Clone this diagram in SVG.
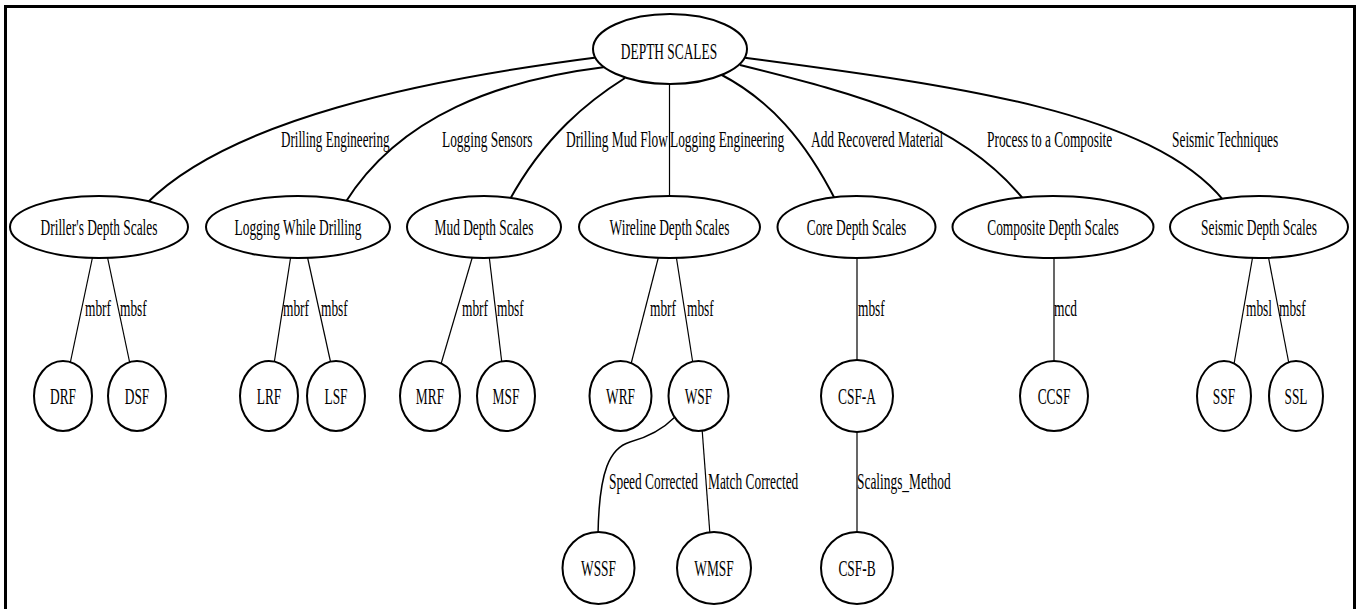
<svg xmlns="http://www.w3.org/2000/svg" width="1362" height="609" viewBox="0 0 1362 609">
<style>
  .frame { fill: none; stroke: #000; stroke-width: 3; }
  .node ellipse { fill: #fff; stroke: #000; stroke-width: 2; }
  .node text, .lbl { font-family: "Liberation Serif", "Times New Roman", serif; font-size: 24px; fill: #000; }
  .node text { text-anchor: middle; }
  .lbl { text-anchor: start; }
  .edge { fill: none; stroke: #000; stroke-width: 1.2; }
  .edge.c { stroke-width: 2; }
</style>
<rect x="0" y="0" width="1362" height="609" fill="#fff"/>
<path class="frame" d="M5.5,609 V6.5 H1354.5 V609"/>

<g id="connectors">
  <path class="edge c" d="M600,57 C420,80 230,120 147,203"/>
  <path class="edge c" d="M605,67 C500,80 400,115 345,203"/>
  <path class="edge c" d="M625,78 C590,100 545,135 509,201"/>
  <path class="edge" d="M669.5,80 V200"/>
  <path class="edge c" d="M720,74 C770,100 805,140 836,201"/>
  <path class="edge c" d="M740,65 C860,95 960,120 1025,201"/>
  <path class="edge c" d="M740,57 C950,85 1150,110 1224,201"/>

  <path class="edge" d="M93,255 L70,364"/>
  <path class="edge" d="M107,255 L130,364"/>
  <path class="edge" d="M291,255 L274,364"/>
  <path class="edge" d="M307,255 L331,364"/>
  <path class="edge" d="M473,255 L441,364"/>
  <path class="edge" d="M489,255 L502,364"/>
  <path class="edge" d="M659,255 L631,364"/>
  <path class="edge" d="M676,255 L693,364"/>
  <path class="edge" d="M857,255 V362"/>
  <path class="edge" d="M1054,255 V363"/>
  <path class="edge" d="M1253,255 L1234,364"/>
  <path class="edge" d="M1268,255 L1289,364"/>

  <path class="edge" style="stroke-width:1.5" d="M675,417 C660,432 645,438 630,442 C610,448 599,470 598,535"/>
  <path class="edge" d="M702,428 L710,535"/>
  <path class="edge" d="M857,428 V535"/>

  <text class="lbl" transform="translate(281 147) scale(0.545 1)">Drilling Engineering</text>
  <text class="lbl" transform="translate(442 147) scale(0.558 1)">Logging Sensors</text>
  <text class="lbl" transform="translate(566 147) scale(0.558 1)">Drilling Mud Flow</text>
  <text class="lbl" transform="translate(670 147) scale(0.558 1)">Logging Engineering</text>
  <text class="lbl" transform="translate(811 147) scale(0.558 1)">Add Recovered Material</text>
  <text class="lbl" transform="translate(987 147) scale(0.558 1)">Process to a Composite</text>
  <text class="lbl" transform="translate(1172 147) scale(0.558 1)">Seismic Techniques</text>

  <text class="lbl" transform="translate(85 316) scale(0.558 1)">mbrf</text>
  <text class="lbl" transform="translate(120 316) scale(0.558 1)">mbsf</text>
  <text class="lbl" transform="translate(283 316) scale(0.558 1)">mbrf</text>
  <text class="lbl" transform="translate(321 316) scale(0.558 1)">mbsf</text>
  <text class="lbl" transform="translate(462 316) scale(0.558 1)">mbrf</text>
  <text class="lbl" transform="translate(497 316) scale(0.558 1)">mbsf</text>
  <text class="lbl" transform="translate(650 316) scale(0.558 1)">mbrf</text>
  <text class="lbl" transform="translate(687 316) scale(0.558 1)">mbsf</text>
  <text class="lbl" transform="translate(858 316) scale(0.558 1)">mbsf</text>
  <text class="lbl" transform="translate(1054 316) scale(0.558 1)">mcd</text>
  <text class="lbl" transform="translate(1246 316) scale(0.558 1)">mbsl</text>
  <text class="lbl" transform="translate(1279 316) scale(0.558 1)">mbsf</text>

  <text class="lbl" transform="translate(609 489) scale(0.558 1)">Speed Corrected</text>
  <text class="lbl" transform="translate(708 489) scale(0.558 1)">Match Corrected</text>
  <text class="lbl" transform="translate(857 489) scale(0.558 1)">Scalings_Method</text>
</g>

<g id="depth_scales" class="node"><ellipse cx="670" cy="49" rx="77" ry="35"/><text transform="translate(669 59) scale(0.558 1)">DEPTH SCALES</text></g>

<g id="drillers" class="node"><ellipse cx="99" cy="227" rx="89" ry="31"/><text transform="translate(99 235) scale(0.558 1)">Driller's Depth Scales</text></g>
<g id="lwd" class="node"><ellipse cx="298" cy="227" rx="92" ry="31"/><text transform="translate(298 235) scale(0.558 1)">Logging While Drilling</text></g>
<g id="mud" class="node"><ellipse cx="484" cy="227" rx="77" ry="31"/><text transform="translate(484 235) scale(0.558 1)">Mud Depth Scales</text></g>
<g id="wireline" class="node"><ellipse cx="669.5" cy="227" rx="90.5" ry="31"/><text transform="translate(669.5 235) scale(0.558 1)">Wireline Depth Scales</text></g>
<g id="core" class="node"><ellipse cx="856.5" cy="227" rx="79" ry="31"/><text transform="translate(856.5 235) scale(0.558 1)">Core Depth Scales</text></g>
<g id="composite" class="node"><ellipse cx="1053" cy="227" rx="100.5" ry="31"/><text transform="translate(1053 235) scale(0.558 1)">Composite Depth Scales</text></g>
<g id="seismic" class="node"><ellipse cx="1259" cy="227" rx="89" ry="31"/><text transform="translate(1259 235) scale(0.558 1)">Seismic Depth Scales</text></g>

<g id="drf" class="node"><ellipse cx="63" cy="396" rx="29" ry="35"/><text transform="translate(63 404) scale(0.558 1)">DRF</text></g>
<g id="dsf" class="node"><ellipse cx="137" cy="396" rx="29" ry="35"/><text transform="translate(137 404) scale(0.558 1)">DSF</text></g>
<g id="lrf" class="node"><ellipse cx="269" cy="396" rx="29" ry="35"/><text transform="translate(269 404) scale(0.558 1)">LRF</text></g>
<g id="lsf" class="node"><ellipse cx="336" cy="396" rx="29" ry="35"/><text transform="translate(336 404) scale(0.558 1)">LSF</text></g>
<g id="mrf" class="node"><ellipse cx="430" cy="396" rx="30" ry="35"/><text transform="translate(430 404) scale(0.558 1)">MRF</text></g>
<g id="msf" class="node"><ellipse cx="506" cy="396" rx="29" ry="35"/><text transform="translate(506 404) scale(0.558 1)">MSF</text></g>
<g id="wrf" class="node"><ellipse cx="620.5" cy="396" rx="31" ry="35"/><text transform="translate(620.5 404) scale(0.558 1)">WRF</text></g>
<g id="wsf" class="node"><ellipse cx="698.5" cy="396" rx="30" ry="35"/><text transform="translate(698.5 404) scale(0.558 1)">WSF</text></g>
<g id="csf_a" class="node"><ellipse cx="857" cy="396" rx="36" ry="36"/><text transform="translate(857 404) scale(0.558 1)">CSF-A</text></g>
<g id="ccsf" class="node"><ellipse cx="1054" cy="396" rx="34" ry="35"/><text transform="translate(1054 404) scale(0.558 1)">CCSF</text></g>
<g id="ssf" class="node"><ellipse cx="1224" cy="396" rx="27" ry="35"/><text transform="translate(1224 404) scale(0.558 1)">SSF</text></g>
<g id="ssl" class="node"><ellipse cx="1296" cy="396" rx="27" ry="35"/><text transform="translate(1296 404) scale(0.558 1)">SSL</text></g>

<g id="wssf" class="node"><ellipse cx="598.5" cy="568" rx="36" ry="36"/><text transform="translate(598.5 576) scale(0.558 1)">WSSF</text></g>
<g id="wmsf" class="node"><ellipse cx="714" cy="568" rx="37" ry="36"/><text transform="translate(714 576) scale(0.558 1)">WMSF</text></g>
<g id="csf_b" class="node"><ellipse cx="857" cy="568" rx="36" ry="36"/><text transform="translate(857 576) scale(0.558 1)">CSF-B</text></g>
</svg>
